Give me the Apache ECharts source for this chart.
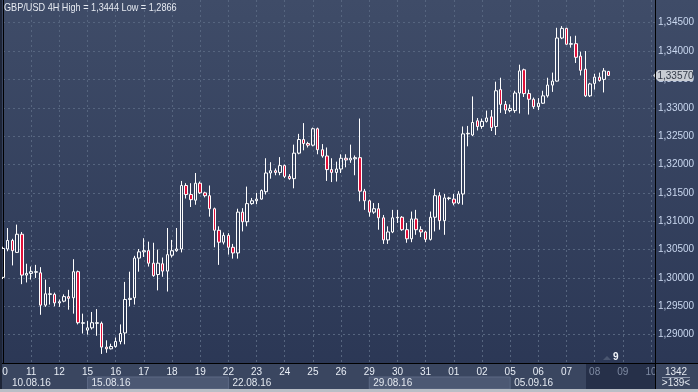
<!DOCTYPE html>
<html><head><meta charset="utf-8">
<script src="https://cdn.jsdelivr.net/npm/echarts@6/dist/echarts.min.js"></script>
<style>html,body{margin:0;padding:0;background:#2e3a57;}#c{width:698px;height:392px;}</style>
</head><body><div id="c"></div>
<script>
// ---- data (4H candles, index 0 = first bar of 10.08.16) ----
const open = [1.3001,1.3051,1.3066,1.3045,1.3077,1.3005,1.3008,1.3010,1.3009,1.2952,
1.2971,1.2971,1.2956,1.2959,1.2967,1.2965,1.3011,1.2920,1.2908,1.2912,
1.2920,1.2920,1.2878,1.2875,1.2879,1.2888,1.2903,1.2962,1.2965,1.3035,
1.3046,1.3048,1.3026,1.3006,1.3025,1.3012,1.3040,1.3048,1.3051,1.3163,
1.3147,1.3137,1.3167,1.3150,1.3145,1.3122,1.3084,1.3063,1.3075,1.3054,
1.3044,1.3116,1.3099,1.3131,1.3136,1.3139,1.3152,1.3185,1.3189,1.3186,
1.3198,1.3179,1.3175,1.3220,1.3244,1.3237,1.3234,1.3263,1.3226,1.3215,
1.3191,1.3186,1.3192,1.3211,1.3208,1.3210,1.3212,1.3153,1.3136,1.3116,
1.3122,1.3106,1.3067,1.3081,1.3106,1.3107,1.3085,1.3069,1.3104,1.3085,
1.3081,1.3068,1.3107,1.3145,1.3101,1.3140,1.3139,1.3132,1.3148,1.3254,
1.3252,1.3277,1.3267,1.3276,1.3284,1.3267,1.3332,1.3306,1.3295,1.3295,
1.3326,1.3367,1.3325,1.3315,1.3302,1.3308,1.3321,1.3340,1.3347,1.3423,
1.3440,1.3412,1.3413,1.3391,1.3368,1.3321,1.3343,1.3354,1.3350,1.3364];
const close = [1.3052,1.3066,1.3048,1.3077,1.3005,1.3008,1.3011,1.3011,1.2952,1.2972,
1.2972,1.2956,1.2958,1.2967,1.2964,1.3011,1.2921,1.2921,1.2912,1.2921,
1.2921,1.2878,1.2875,1.2879,1.2888,1.2902,1.2962,1.2964,1.3035,1.3046,
1.3048,1.3026,1.3004,1.3026,1.3012,1.3041,1.3048,1.3051,1.3163,1.3147,
1.3138,1.3167,1.3150,1.3145,1.3122,1.3084,1.3063,1.3075,1.3054,1.3044,
1.3116,1.3099,1.3131,1.3136,1.3139,1.3154,1.3185,1.3189,1.3186,1.3198,
1.3179,1.3175,1.3220,1.3244,1.3237,1.3234,1.3263,1.3226,1.3215,1.3191,
1.3186,1.3192,1.3211,1.3208,1.3211,1.3212,1.3153,1.3136,1.3116,1.3122,
1.3106,1.3067,1.3081,1.3106,1.3107,1.3085,1.3069,1.3104,1.3085,1.3081,
1.3068,1.3107,1.3145,1.3101,1.3141,1.3141,1.3132,1.3148,1.3254,1.3255,
1.3274,1.3267,1.3276,1.3282,1.3265,1.3330,1.3306,1.3296,1.3299,1.3326,
1.3365,1.3325,1.3315,1.3302,1.3308,1.3321,1.3340,1.3347,1.3423,1.3440,
1.3412,1.3413,1.3389,1.3366,1.3321,1.3342,1.3354,1.3348,1.3365,1.3357];
const low = [1.2998,1.3047,1.3022,1.3044,1.2989,1.2992,1.2997,1.3000,1.2935,1.2949,
1.2953,1.2950,1.2949,1.2957,1.2944,1.2937,1.2918,1.2902,1.2900,1.2909,
1.2898,1.2866,1.2868,1.2874,1.2877,1.2883,1.2883,1.2950,1.2953,1.3011,
1.3037,1.3020,1.3002,1.2978,1.3002,1.2976,1.3036,1.3046,1.3045,1.3140,
1.3125,1.3129,1.3148,1.3142,1.3108,1.3054,1.3023,1.3059,1.3041,1.3034,
1.3034,1.3082,1.3091,1.3129,1.3130,1.3138,1.3147,1.3175,1.3181,1.3181,
1.3176,1.3173,1.3158,1.3218,1.3225,1.3230,1.3232,1.3218,1.3212,1.3171,
1.3169,1.3170,1.3185,1.3195,1.3203,1.3181,1.3135,1.3120,1.3108,1.3113,
1.3085,1.3060,1.3060,1.3079,1.3097,1.3083,1.3062,1.3063,1.3076,1.3072,
1.3063,1.3066,1.3082,1.3085,1.3076,1.3137,1.3128,1.3130,1.3129,1.3232,
1.3250,1.3260,1.3263,1.3274,1.3259,1.3252,1.3291,1.3289,1.3292,1.3291,
1.3290,1.3319,1.3288,1.3298,1.3296,1.3307,1.3318,1.3328,1.3346,1.3421,
1.3411,1.3406,1.3379,1.3357,1.3319,1.3319,1.3332,1.3346,1.3327,1.3356];
const high = [1.3055,1.3088,1.3069,1.3094,1.3081,1.3025,1.3020,1.3023,1.3019,1.2997,
1.2984,1.2974,1.2962,1.2971,1.2979,1.3033,1.3013,1.2937,1.2924,1.2940,
1.2945,1.2923,1.2890,1.2884,1.2895,1.2918,1.2993,1.3011,1.3039,1.3051,
1.3070,1.3064,1.3062,1.3050,1.3036,1.3088,1.3067,1.3088,1.3171,1.3167,
1.3167,1.3185,1.3170,1.3152,1.3163,1.3124,1.3091,1.3080,1.3079,1.3060,
1.3122,1.3123,1.3161,1.3141,1.3150,1.3156,1.3211,1.3204,1.3193,1.3213,
1.3200,1.3183,1.3235,1.3254,1.3273,1.3240,1.3265,1.3265,1.3236,1.3230,
1.3211,1.3205,1.3218,1.3218,1.3235,1.3216,1.3281,1.3157,1.3138,1.3132,
1.3132,1.3111,1.3091,1.3120,1.3120,1.3109,1.3097,1.3117,1.3120,1.3091,
1.3083,1.3117,1.3157,1.3151,1.3148,1.3143,1.3148,1.3153,1.3267,1.3268,
1.3320,1.3282,1.3281,1.3295,1.3296,1.3346,1.3353,1.3312,1.3306,1.3330,
1.3376,1.3369,1.3332,1.3318,1.3317,1.3330,1.3353,1.3362,1.3441,1.3444,
1.3441,1.3426,1.3427,1.3399,1.3400,1.3344,1.3360,1.3362,1.3370,1.3365];
const dayLabels = ['10','11','12','15','16','17','18','19','22','23','24','25','26','29','30','31','01','02','05','06','07','08','09','10'];
const futureDays = ['08','09','10'];
const weekLabels = ['10.08.16','15.08.16','22.08.16','29.08.16','05.09.16'];
const weekStartDays = [0,3,8,13,18];
const titleText = 'GBP/USD 4H High = 1,3444 Low = 1,2866';
const lastPriceText = '1,33570';
const barCountText = '1342';
const barShiftText = '>139<';
const markerText = '9';
const BARS_PER_DAY = 6;

const data = open.map((o, i) => [i, o, close[i], low[i], high[i]]);
const fmt = v => v.toFixed(5).replace('.', ',');
const chart = echarts.init(document.getElementById('c'), null, {renderer: 'canvas'});
const grid = '#56657f';
const option = {
  animation: false,
  backgroundColor: new echarts.graphic.LinearGradient(0, 0, 0, 1, [
    {offset: 0, color: '#3f4c68'}, {offset: 1, color: '#2a3654'}]),
  grid: {left: 3, right: 43, top: 0, bottom: 29},
  xAxis: {
    type: 'value', min: 0, max: 138.85, interval: BARS_PER_DAY,
    axisLine: {show: true, onZero: false, lineStyle: {color: '#000', width: 1}},
    axisTick: {show: false},
    axisLabel: {
      showMaxLabel: false, showMinLabel: false, margin: 4, fontSize: 10, fontFamily: 'Liberation Sans', color: '#e8edf5',
      formatter: v => {
        const k = Math.round(v / BARS_PER_DAY);
        const d = dayLabels[k];
        if (d === undefined || k === 0) return '';
        return (k >= dayLabels.length - futureDays.length) ? '{f|' + d + '}' : d;
      },
      rich: {f: {color: '#7f8ba3', fontSize: 10, fontFamily: 'Liberation Sans'}}
    },
    splitLine: {show: true, showMaxLine: false, lineStyle: {color: grid, type: [2, 3], width: 1}}
  },
  yAxis: {
    type: 'value', position: 'right', min: 1.285, max: 1.349, interval: 0.005,
    axisLine: {show: true, lineStyle: {color: '#000', width: 1}},
    axisTick: {show: false},
    axisLabel: {showMinLabel: false, showMaxLabel: false, formatter: fmt, color: '#c9d7ef',
      fontSize: 10, fontFamily: 'Liberation Sans', margin: 3},
    splitLine: {show: true, showMinLine: false, showMaxLine: false, lineStyle: {color: grid, type: [2, 3], width: 1}}
  },
  series: [{
    type: 'candlestick', data: data, encode: {x: 0, y: [1, 2, 3, 4]},
    barWidth: 3, clip: false,
    itemStyle: {color: 'rgba(0,0,0,0)', color0: '#e0103a', borderColor: '#ffffff', borderColor0: '#ffffff', borderWidth: 1}
  }]
};
chart.setOption(option);

const px = i => chart.convertToPixel({xAxisIndex: 0}, i);
const py = v => chart.convertToPixel({yAxisIndex: 0}, v);
const W = 698, H = 392, axisY = 363, rightX = 655;
const g = [];
const txt = (text, x, y, fill, align, extra) => Object.assign({type: 'text', z: 10, style: Object.assign({text: text, x: x, y: y, fill: fill, fontSize: 10, fontFamily: 'Liberation Sans', verticalAlign: 'middle', align: align})}, extra || {});
// bottom axis strip
g.push({type: 'rect', z: -5, shape: {x: 0, y: axisY, width: W, height: H - axisY}, style: {fill: '#3a4660'}});
// future dim area
g.push({type: 'rect', z: -4, shape: {x: 586, y: axisY + 1, width: rightX - 586, height: 26}, style: {fill: '#263049'}});
// alternating week boxes
weekStartDays.forEach((d, k) => {
  const x0 = px(d * BARS_PER_DAY);
  const x1 = k + 1 < weekStartDays.length ? px(weekStartDays[k + 1] * BARS_PER_DAY) : rightX;
  if (k % 2 === 1) {
    g.push({type: 'rect', z: -3, shape: {x: x0, y: 377, width: x1 - x0, height: 12}, style: {fill: '#4c5873', stroke: '#5c6884', lineWidth: 1}});
  }
  g.push(txt(weekLabels[k], Math.max(x0 + 4, 12), 383.5, '#e3e8f0', 'left'));
});
// first day label, partly cut by the left edge
g.push(txt(dayLabels[0], px(0) - 0.8, 372.5, '#e8edf5', 'center'));
// frame lines
g.push({type: 'line', z: 20, shape: {x1: 0, y1: axisY + 0.5, x2: W, y2: axisY + 0.5}, style: {stroke: '#000', lineWidth: 1}});
g.push({type: 'line', z: 20, shape: {x1: rightX + 0.5, y1: 0, x2: rightX + 0.5, y2: H}, style: {stroke: '#000', lineWidth: 1}});
g.push({type: 'rect', z: 20, shape: {x: 0, y: 0, width: 2, height: H}, style: {fill: '#1e2537'}});
g.push({type: 'rect', z: 20, shape: {x: 0, y: 389, width: W, height: 3}, style: {fill: '#b9bec6'}});
// title (narrow face)
g.push({type: 'text', z: 10, x: 4, y: 8.5, scaleX: 0.87, style: {text: titleText, x: 0, y: 0, fill: '#e6eaf1', fontSize: 10.5, fontFamily: 'Liberation Sans', verticalAlign: 'middle', align: 'left'}});
// last price tag
const ly = py(close[close.length - 1]);
g.push({type: 'polygon', z: 15, shape: {points: [[653, ly], [658, ly - 5.5], [693, ly - 5.5], [693, ly + 5.5], [658, ly + 5.5]]}, style: {fill: '#c8ccd3'}});
g.push(txt(lastPriceText, 675.5, ly + 0.5, '#333a48', 'center', {z: 16}));
// bar count / shift
g.push(txt(barCountText, 676, 372, '#e3e8f0', 'center'));
g.push({type: 'line', z: 10, shape: {x1: 662, y1: 377.5, x2: 690, y2: 377.5}, style: {stroke: '#8f99ad', lineWidth: 1}});
g.push(txt(barShiftText, 676, 383.5, '#e3e8f0', 'center'));
// shift marker
g.push({type: 'polygon', z: 10, shape: {points: [[603, 360], [607, 356], [611, 360]]}, style: {fill: '#4a5670'}});
g.push({type: 'text', z: 10, style: {text: markerText, x: 613, y: 357.5, fill: '#f0f3f8', fontSize: 10, fontWeight: 'bold', fontFamily: 'Liberation Sans', verticalAlign: 'middle', align: 'left'}});
chart.setOption({graphic: g});
</script></body></html>
